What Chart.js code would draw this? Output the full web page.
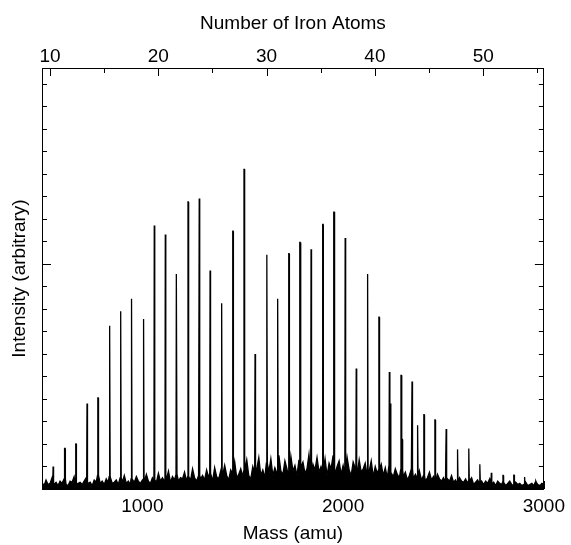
<!DOCTYPE html>
<html>
<head>
<meta charset="utf-8">
<script src="https://cdn.jsdelivr.net/npm/chart.js@4.4.1/dist/chart.umd.min.js"></script>
<style>
  html, body { margin: 0; padding: 0; background: #fff; }
  #wrap { position: relative; width: 571px; height: 545px; }
</style>
</head>
<body>
<div id="wrap"><canvas id="spectrum" width="571" height="545"></canvas></div>
<script>
// Fe_n cluster peaks, mass (amu) and height (arbitrary units)
const peakMass = [556, 614, 669, 725, 779, 837, 892, 946, 1006, 1060, 1115, 1170, 1228, 1284, 1338,
  1395, 1451, 1507, 1562, 1620, 1674, 1730, 1785, 1841, 1899, 1955, 2011, 2066, 2122, 2179,
  2231, 2289, 2344, 2403, 2458, 2514, 2570, 2626, 2681, 2739, 2797, 2851, 2904, 2960];
const peakHeight = [1.0, 1.8, 2.0, 3.8, 4.05, 7.25, 7.9, 8.45, 7.55, 11.7, 11.3, 9.55, 12.75, 12.9, 9.7,
  8.25, 11.45, 14.2, 6.0, 10.4, 8.45, 10.45, 10.95, 10.65, 11.75, 12.3, 11.15, 5.35, 9.55, 7.63,
  5.2, 5.05, 4.77, 3.3, 3.07, 2.67, 1.76, 1.8, 1.1, 0.72, 0.6, 0.62, 0.53, 0.35];

// a few smaller side peaks
const sideMass = [2236, 2371, 2294];
const sideHeight = [3.8, 2.83, 2.2];

// baseline noise, one value every 10 amu from 500 to 3000
const noiseStart = 500;
const noiseStep = 10;
const noiseLevel = [
  0.3,0.15,0.4,0.2,0.25,0.5,0.2,0.3,0.15,0.35,
  0.25,0.45,0.2,0.15,0.35,0.3,0.55,0.2,0.25,0.3,
  0.2,0.35,0.5,0.25,0.3,0.15,0.4,0.3,0.6,0.25,
  0.35,0.2,0.45,0.3,0.55,0.25,0.3,0.4,0.2,0.5,
  0.3,0.6,0.25,0.35,0.2,0.45,0.3,0.55,0.35,0.25,
  0.4,0.3,0.65,0.35,0.25,0.5,0.4,0.3,0.7,0.35,
  0.5,0.35,0.45,0.8,0.3,0.55,0.4,0.65,0.35,0.5,
  0.45,0.75,0.35,0.55,0.4,0.9,0.5,0.35,0.6,0.45,
  0.6,0.4,0.85,0.5,0.7,0.35,0.95,0.55,0.45,0.8,
  0.5,1.05,0.6,0.4,0.85,0.7,1.2,0.5,0.65,0.9,
  0.55,0.8,1.3,0.6,0.45,1.0,0.7,0.9,1.4,0.6,
  0.85,0.5,1.15,0.75,1.35,0.6,0.95,0.7,1.5,0.8,
  0.65,1.25,0.9,0.55,1.45,0.8,1.05,0.6,1.3,0.95,
  1.2,0.7,0.9,1.55,0.6,1.1,0.85,1.4,0.75,1.0,
  0.8,1.35,0.6,1.15,0.9,1.5,0.7,1.0,1.25,0.65,
  1.05,0.7,1.4,0.85,0.6,1.2,0.95,0.65,1.3,0.75,
  0.9,1.15,0.6,0.8,1.25,0.55,1.0,0.7,0.85,1.1,
  0.6,0.95,0.5,1.05,0.7,0.55,0.9,0.65,0.5,0.85,
  0.55,0.75,0.4,0.6,0.9,0.45,0.65,0.5,0.8,0.4,
  0.6,0.35,0.5,0.75,0.4,0.55,0.3,0.65,0.45,0.35,
  0.5,0.3,0.45,0.35,0.6,0.3,0.4,0.25,0.5,0.35,
  0.3,0.45,0.25,0.35,0.5,0.2,0.3,0.4,0.25,0.35,
  0.2,0.35,0.25,0.45,0.2,0.3,0.15,0.35,0.25,0.2,
  0.3,0.15,0.25,0.35,0.2,0.15,0.3,0.2,0.25,0.15,
  0.2,0.3,0.15,0.2,0.25,0.15,0.3,0.2,0.15,0.25,
  0.2
];

// axis ranges / labels
const massMin = 500, massMax = 3000;
const massLabels = [1000, 2000, 3000];
const atomMin = 9.26, atomMax = 55.6;
const atomLabels = [10, 20, 30, 40, 50];
const yMax = 18.7;

const FONT = { family: "'Liberation Sans', Arial, sans-serif", size: 19 };

function noiseAt(m) {
  const i = Math.round((m - noiseStart) / noiseStep);
  return noiseLevel[Math.max(0, Math.min(noiseLevel.length - 1, i))];
}

// put noise and peaks together into one trace
function buildSpectrum() {
  const allMass = peakMass.concat(sideMass);
  const allHeight = peakHeight.concat(sideHeight);
  const pts = [];
  noiseLevel.forEach((v, i) => {
    const m = noiseStart + i * noiseStep;
    if (!allMass.some(p => Math.abs(p - m) < 4)) pts.push({ x: m, y: v });
  });
  allMass.forEach((m, i) => {
    const base = noiseAt(m);
    pts.push({ x: m - 2.5, y: base });
    pts.push({ x: m - 0.8, y: allHeight[i] });
    pts.push({ x: m + 0.8, y: allHeight[i] });
    pts.push({ x: m + 2.5, y: base });
  });
  pts.sort((a, b) => a.x - b.x);
  return pts;
}

// ticks pointing into the plot on all four sides
const insideTicks = {
  id: 'insideTicks',
  afterDraw(chart) {
    const { ctx, chartArea: a, scales } = chart;
    ctx.save();
    ctx.strokeStyle = '#000';
    ctx.lineWidth = 1;
    ctx.beginPath();
    for (let v = 0; v <= yMax; v++) {
      const y = Math.round(scales.y.getPixelForValue(v)) + 0.5;
      const len = v === 10 ? 9 : 5;
      ctx.moveTo(a.left, y); ctx.lineTo(a.left + len, y);
      ctx.moveTo(a.right, y); ctx.lineTo(a.right - len, y);
    }
    for (let m = massMin; m <= massMax; m += 500) {
      const x = Math.round(scales.x.getPixelForValue(m)) + 0.5;
      const len = m % 1000 === 0 ? 8 : 5;
      ctx.moveTo(x, a.bottom); ctx.lineTo(x, a.bottom - len);
    }
    for (let n = 10; n <= 55; n += 5) {
      const x = Math.round(scales.x2.getPixelForValue(n)) + 0.5;
      const len = n % 10 === 0 ? 8 : 5;
      ctx.moveTo(x, a.top); ctx.lineTo(x, a.top + len);
    }
    ctx.stroke();
    ctx.restore();
  }
};

function fixedSize(prop, px) {
  return function (scale) { scale[prop] = px; };
}

new Chart(document.getElementById('spectrum'), {
  type: 'line',
  data: {
    datasets: [{
      data: buildSpectrum(),
      borderColor: '#000',
      backgroundColor: '#000',
      borderWidth: 1.3,
      pointRadius: 0,
      tension: 0,
      fill: 'origin'
    }]
  },
  options: {
    responsive: false,
    animation: false,
    layout: { padding: 0 },
    plugins: { legend: { display: false }, tooltip: { enabled: false } },
    scales: {
      x: {
        type: 'linear', position: 'bottom', min: massMin, max: massMax,
        afterBuildTicks: s => { s.ticks = massLabels.map(v => ({ value: v })); },
        afterFit: fixedSize('height', 56),
        grid: { display: false, drawTicks: false },
        border: { display: true, color: '#000', width: 1 },
        ticks: { color: '#000', font: FONT, padding: 6, maxRotation: 0, callback: v => String(v) },
        title: { display: true, text: 'Mass (amu)', color: '#000', font: FONT, padding: { top: 0, bottom: 0 } }
      },
      x2: {
        type: 'linear', position: 'top', min: atomMin, max: atomMax,
        afterBuildTicks: s => { s.ticks = atomLabels.map(v => ({ value: v })); },
        afterFit: fixedSize('height', 68),
        grid: { display: false, drawTicks: false },
        border: { display: true, color: '#000', width: 1 },
        ticks: { color: '#000', font: FONT, padding: 0, maxRotation: 0, callback: v => String(v) },
        title: { display: true, text: 'Number of Iron Atoms', color: '#000', font: FONT, padding: { top: 12, bottom: 0 } }
      },
      y: {
        type: 'linear', position: 'left', min: 0, max: yMax,
        afterFit: fixedSize('width', 42),
        grid: { display: false, drawTicks: false },
        border: { display: true, color: '#000', width: 1 },
        ticks: { display: false },
        title: { display: true, text: 'Intensity (arbitrary)', color: '#000', font: FONT, padding: { top: 8, bottom: 0 } }
      },
      y2: {
        type: 'linear', position: 'right', min: 0, max: yMax,
        afterFit: fixedSize('width', 25),
        grid: { display: false, drawTicks: false },
        border: { display: true, color: '#000', width: 1 },
        ticks: { display: false }
      }
    }
  },
  plugins: [insideTicks]
});
</script>
</body>
</html>
